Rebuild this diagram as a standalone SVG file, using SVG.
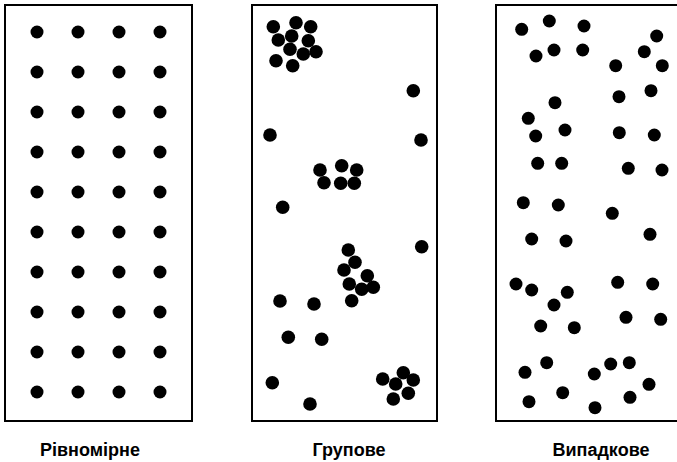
<svg xmlns="http://www.w3.org/2000/svg" width="677" height="462" viewBox="0 0 677 462">
<style>
.frame{fill:none;stroke:#000;stroke-width:2}
.d{fill:#000}
.lbl{font-family:"Liberation Sans",Arial,sans-serif;font-weight:bold;font-size:18px;fill:#000;text-anchor:middle}
</style>
<rect width="677" height="462" fill="#fff"/>
<g id="connectors"/>
<g id="panel-uniform">
<rect class="frame" x="5" y="5" width="187" height="416"/>
<g id="uniform-dots">
<circle class="d" cx="37" cy="32" r="6.5"/><circle class="d" cx="78" cy="32" r="6.5"/><circle class="d" cx="119" cy="32" r="6.5"/><circle class="d" cx="160" cy="32" r="6.5"/>
<circle class="d" cx="37" cy="72" r="6.5"/><circle class="d" cx="78" cy="72" r="6.5"/><circle class="d" cx="119" cy="72" r="6.5"/><circle class="d" cx="160" cy="72" r="6.5"/>
<circle class="d" cx="37" cy="112" r="6.5"/><circle class="d" cx="78" cy="112" r="6.5"/><circle class="d" cx="119" cy="112" r="6.5"/><circle class="d" cx="160" cy="112" r="6.5"/>
<circle class="d" cx="37" cy="152" r="6.5"/><circle class="d" cx="78" cy="152" r="6.5"/><circle class="d" cx="119" cy="152" r="6.5"/><circle class="d" cx="160" cy="152" r="6.5"/>
<circle class="d" cx="37" cy="192" r="6.5"/><circle class="d" cx="78" cy="192" r="6.5"/><circle class="d" cx="119" cy="192" r="6.5"/><circle class="d" cx="160" cy="192" r="6.5"/>
<circle class="d" cx="37" cy="232" r="6.5"/><circle class="d" cx="78" cy="232" r="6.5"/><circle class="d" cx="119" cy="232" r="6.5"/><circle class="d" cx="160" cy="232" r="6.5"/>
<circle class="d" cx="37" cy="272" r="6.5"/><circle class="d" cx="78" cy="272" r="6.5"/><circle class="d" cx="119" cy="272" r="6.5"/><circle class="d" cx="160" cy="272" r="6.5"/>
<circle class="d" cx="37" cy="312" r="6.5"/><circle class="d" cx="78" cy="312" r="6.5"/><circle class="d" cx="119" cy="312" r="6.5"/><circle class="d" cx="160" cy="312" r="6.5"/>
<circle class="d" cx="37" cy="352" r="6.5"/><circle class="d" cx="78" cy="352" r="6.5"/><circle class="d" cx="119" cy="352" r="6.5"/><circle class="d" cx="160" cy="352" r="6.5"/>
<circle class="d" cx="37" cy="392" r="6.5"/><circle class="d" cx="78" cy="392" r="6.5"/><circle class="d" cx="119" cy="392" r="6.5"/><circle class="d" cx="160" cy="392" r="6.5"/>
</g>
<text class="lbl" x="90" y="456">Рівномірне</text>
</g>
<g id="panel-group">
<rect class="frame" x="252" y="5" width="185" height="416"/>
<g id="group-dots">
<circle class="d" cx="273.3" cy="26.7" r="6.8"/><circle class="d" cx="296" cy="22.7" r="6.8"/><circle class="d" cx="310.7" cy="26.7" r="6.8"/>
<circle class="d" cx="278.3" cy="40" r="6.8"/><circle class="d" cx="291.7" cy="36" r="6.8"/><circle class="d" cx="308.3" cy="40.7" r="6.8"/>
<circle class="d" cx="290" cy="49.3" r="6.8"/><circle class="d" cx="303.3" cy="54" r="6.8"/><circle class="d" cx="316" cy="51.7" r="6.8"/>
<circle class="d" cx="276" cy="60.7" r="6.8"/><circle class="d" cx="292.7" cy="65.7" r="6.8"/>
<circle class="d" cx="413.3" cy="90.7" r="6.8"/><circle class="d" cx="270" cy="135" r="6.8"/><circle class="d" cx="421" cy="140" r="6.8"/>
<circle class="d" cx="320" cy="170" r="6.8"/><circle class="d" cx="341.7" cy="165.7" r="6.8"/><circle class="d" cx="356.7" cy="170" r="6.8"/>
<circle class="d" cx="324" cy="182.7" r="6.8"/><circle class="d" cx="340.7" cy="183.3" r="6.8"/><circle class="d" cx="354.3" cy="183.3" r="6.8"/>
<circle class="d" cx="282.7" cy="207.3" r="6.8"/>
<circle class="d" cx="421.7" cy="246.7" r="6.8"/>
<circle class="d" cx="348.3" cy="250" r="6.8"/><circle class="d" cx="355" cy="262.3" r="6.8"/><circle class="d" cx="344" cy="270" r="6.8"/>
<circle class="d" cx="367.3" cy="275.7" r="6.8"/><circle class="d" cx="349.3" cy="284" r="6.8"/><circle class="d" cx="361.7" cy="289.3" r="6.8"/>
<circle class="d" cx="373.3" cy="287.3" r="6.8"/><circle class="d" cx="351.7" cy="300.7" r="6.8"/>
<circle class="d" cx="280" cy="301" r="6.8"/><circle class="d" cx="314" cy="304" r="6.8"/><circle class="d" cx="288.3" cy="337.3" r="6.8"/>
<circle class="d" cx="321.7" cy="339.3" r="6.8"/><circle class="d" cx="272.3" cy="382.7" r="6.8"/><circle class="d" cx="310" cy="404" r="6.8"/>
<circle class="d" cx="382.7" cy="379" r="6.8"/><circle class="d" cx="403.3" cy="372.7" r="6.8"/><circle class="d" cx="413.3" cy="380" r="6.8"/>
<circle class="d" cx="395.7" cy="384" r="6.8"/><circle class="d" cx="408.3" cy="393.3" r="6.8"/><circle class="d" cx="393.3" cy="399" r="6.8"/>
</g>
<text class="lbl" x="349" y="456">Групове</text>
</g>
<g id="panel-random">
<path class="frame" d="M677,5 H496 V421 H677"/>
<g id="random-dots">
<circle class="d" cx="521.7" cy="29.3" r="6.5"/><circle class="d" cx="549.3" cy="21" r="6.5"/><circle class="d" cx="584" cy="26" r="6.5"/>
<circle class="d" cx="656.7" cy="36" r="6.5"/><circle class="d" cx="536" cy="56" r="6.5"/><circle class="d" cx="554" cy="50" r="6.5"/>
<circle class="d" cx="582.7" cy="50" r="6.5"/><circle class="d" cx="644.3" cy="51.7" r="6.5"/><circle class="d" cx="615.7" cy="65.7" r="6.5"/>
<circle class="d" cx="662.3" cy="65.7" r="6.5"/><circle class="d" cx="651" cy="90.7" r="6.5"/><circle class="d" cx="619" cy="96.7" r="6.5"/>
<circle class="d" cx="555" cy="102.7" r="6.5"/><circle class="d" cx="528.3" cy="118.3" r="6.5"/><circle class="d" cx="535.7" cy="136" r="6.5"/>
<circle class="d" cx="565" cy="130" r="6.5"/><circle class="d" cx="619.3" cy="132.7" r="6.5"/><circle class="d" cx="654.3" cy="135" r="6.5"/>
<circle class="d" cx="537.7" cy="163.3" r="6.5"/><circle class="d" cx="561.7" cy="163.3" r="6.5"/><circle class="d" cx="628.3" cy="168.3" r="6.5"/>
<circle class="d" cx="662" cy="170" r="6.5"/><circle class="d" cx="523.3" cy="202.7" r="6.5"/><circle class="d" cx="558.3" cy="205" r="6.5"/>
<circle class="d" cx="612.3" cy="213.3" r="6.5"/>
<circle class="d" cx="531.7" cy="239" r="6.5"/><circle class="d" cx="566" cy="241" r="6.5"/><circle class="d" cx="650" cy="234.3" r="6.5"/>
<circle class="d" cx="516" cy="284" r="6.5"/><circle class="d" cx="531.7" cy="290" r="6.5"/><circle class="d" cx="567.3" cy="292.3" r="6.5"/>
<circle class="d" cx="554" cy="305" r="6.5"/><circle class="d" cx="617.7" cy="282.3" r="6.5"/><circle class="d" cx="652.7" cy="284" r="6.5"/>
<circle class="d" cx="626" cy="317.3" r="6.5"/><circle class="d" cx="660.7" cy="319.3" r="6.5"/><circle class="d" cx="540.7" cy="326" r="6.5"/>
<circle class="d" cx="574.3" cy="327.7" r="6.5"/><circle class="d" cx="546.7" cy="362.7" r="6.5"/><circle class="d" cx="525" cy="372.3" r="6.5"/>
<circle class="d" cx="594.3" cy="374" r="6.5"/><circle class="d" cx="610.7" cy="364" r="6.5"/><circle class="d" cx="629.3" cy="362.7" r="6.5"/>
<circle class="d" cx="649" cy="384.3" r="6.5"/><circle class="d" cx="529" cy="401.7" r="6.5"/><circle class="d" cx="562.7" cy="392.7" r="6.5"/>
<circle class="d" cx="595" cy="407.7" r="6.5"/><circle class="d" cx="630" cy="397.3" r="6.5"/>
</g>
<text class="lbl" x="601" y="456">Випадкове</text>
</g>
</svg>
